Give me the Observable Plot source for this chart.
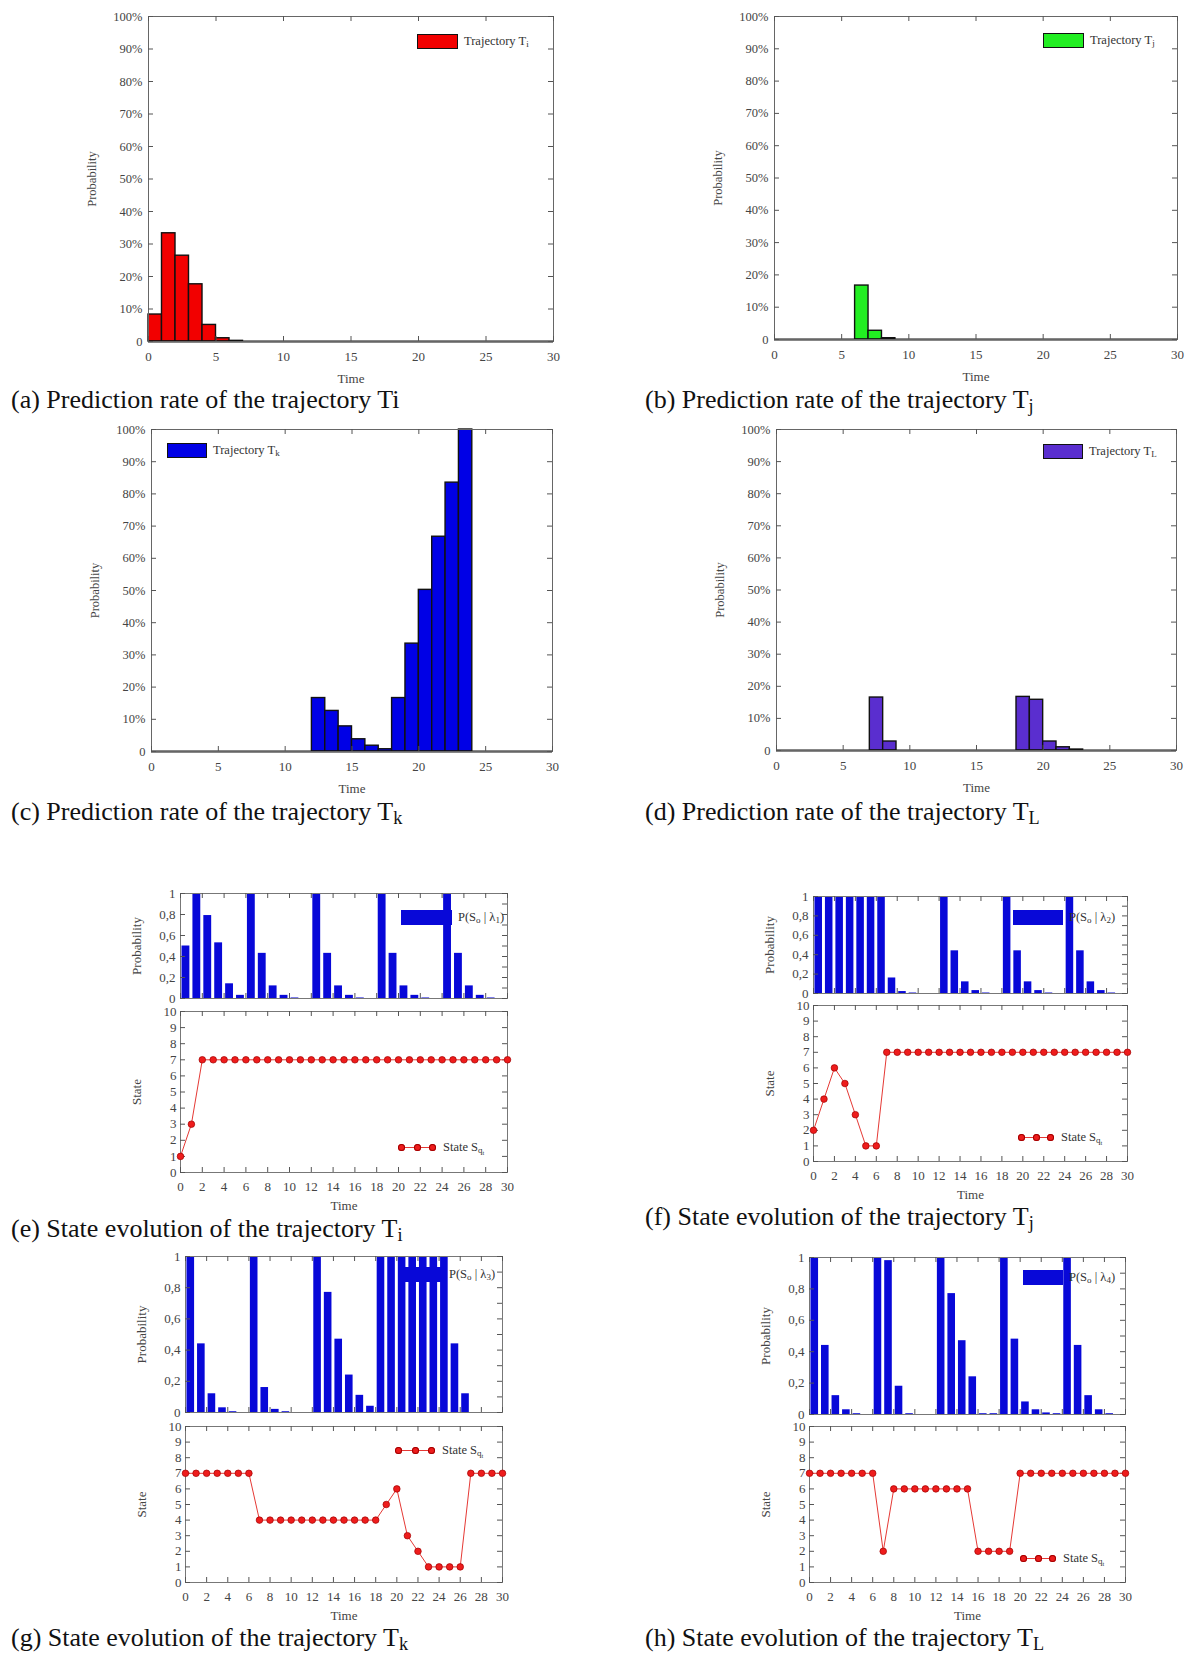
<!DOCTYPE html>
<html><head><meta charset="utf-8">
<script src="https://cdn.jsdelivr.net/npm/d3@7"></script>
<script src="https://cdn.jsdelivr.net/npm/@observablehq/plot@0.6"></script>
<style>
body{margin:0;background:#fff}
#root{position:relative;width:1186px;height:1659px;overflow:hidden;font-family:"Liberation Serif","Times New Roman",serif;background:#fff}
#root svg{overflow:visible}
.cap{position:absolute;font-size:26px;line-height:28px;color:#111;white-space:nowrap}
.cap sub{font-size:70%;vertical-align:-0.2em;line-height:0}
.leg{position:absolute;display:flex;align-items:center;height:16px;font-size:12.5px;color:#333;white-space:nowrap}
.leg sub{font-size:72%;vertical-align:-0.25em;line-height:0}
.sw{display:inline-block;box-sizing:border-box;margin-right:6px}
.sl{display:inline-flex;justify-content:space-between;align-items:center;height:8px;margin-right:7px;background:linear-gradient(#e53935,#e53935) center/100% 1px no-repeat}
.sl i{display:block;width:7px;height:7px;border-radius:50%;background:#ee1c1c;box-shadow:inset 0 0 0 1px #a00000}
</style></head>
<body><div id="root"></div>
<script>
// ---------- data ----------
const timeSteps = [0,1,2,3,4,5,6,7,8,9,10,11,12,13,14,15,16,17,18,19,20,21,22,23,24,25,26,27,28,29];
const stateTimes = [0,1,2,3,4,5,6,7,8,9,10,11,12,13,14,15,16,17,18,19,20,21,22,23,24,25,26,27,28,29,30];

// prediction rate (%) per time bin
const probTi = [8.3,33.3,26.4,17.6,5.1,1.0,0.2,0,0,0,0,0,0,0,0,0,0,0,0,0,0,0,0,0,0,0,0,0,0,0];
const probTj = [0,0,0,0,0,0,16.7,2.7,0.4,0,0,0,0,0,0,0,0,0,0,0,0,0,0,0,0,0,0,0,0,0];
const probTk = [0,0,0,0,0,0,0,0,0,0,0,0,16.6,12.6,7.8,3.8,1.8,0.7,16.6,33.5,50.2,66.7,83.5,100,0,0,0,0,0,0];
const probTL = [0,0,0,0,0,0,0,16.5,2.8,0,0,0,0,0,0,0,0,0,16.7,15.8,2.8,1.0,0.3,0,0,0,0,0,0,0];

// P(So | lambda_n) per time step
const pLambda1 = [0.50,1,0.79,0.53,0.14,0.03,1,0.43,0.12,0.03,0.005,0,1,0.43,0.12,0.03,0.005,0,1,0.43,0.12,0.03,0.005,0,1,0.43,0.12,0.03,0.005,0];
const pLambda2 = [1,1,1,1,1,1,1,0.16,0.02,0.005,0,0,1,0.44,0.12,0.03,0.005,0,1,0.44,0.12,0.03,0.005,0,1,0.44,0.12,0.03,0.005,0];
const pLambda3 = [1,0.44,0.12,0.03,0.005,0,1,0.16,0.02,0.005,0,0,1,0.77,0.47,0.24,0.11,0.04,1,1,1,1,1,1,1,0.44,0.12,0,0,0];
const pLambda4 = [1,0.44,0.12,0.03,0.005,0,1,0.98,0.18,0.005,0,0,1,0.77,0.47,0.24,0.005,0.005,1,0.48,0.08,0.03,0.01,0.005,1,0.44,0.12,0.03,0.005,0];

// state evolution S_qt
const stateTi = [1,3,7,7,7,7,7,7,7,7,7,7,7,7,7,7,7,7,7,7,7,7,7,7,7,7,7,7,7,7,7];
const stateTj = [2,4,6,5,3,1,1,7,7,7,7,7,7,7,7,7,7,7,7,7,7,7,7,7,7,7,7,7,7,7,7];
const stateTk = [7,7,7,7,7,7,7,4,4,4,4,4,4,4,4,4,4,4,4,5,6,3,2,1,1,1,1,7,7,7,7];
const stateTL = [7,7,7,7,7,7,7,2,6,6,6,6,6,6,6,6,2,2,2,2,7,7,7,7,7,7,7,7,7,7,7];

// ticks
const histTimeTicks = [0,5,10,15,20,25,30];
const histProbTicks = [0,10,20,30,40,50,60,70,80,90,100];
const stateTimeTicks = [0,2,4,6,8,10,12,14,16,18,20,22,24,26,28,30];
const stateTicks = [0,1,2,3,4,5,6,7,8,9,10];
const barProbTicks = [0,0.2,0.4,0.6,0.8,1];
const barMinorTicks = [0,0.1,0.2,0.3,0.4,0.5,0.6,0.7,0.8,0.9,1];

// captions
const captions = [
  "(a) Prediction rate of the trajectory Ti",
  "(b) Prediction rate of the trajectory T<sub>j</sub>",
  "(c) Prediction rate of the trajectory T<sub>k</sub>",
  "(d) Prediction rate of the trajectory T<sub>L</sub>",
  "(e) State evolution of the trajectory T<sub>i</sub>",
  "(f) State evolution of the trajectory T<sub>j</sub>",
  "(g) State evolution of the trajectory T<sub>k</sub>",
  "(h) State evolution of the trajectory T<sub>L</sub>"
];

// ---------- helpers ----------
const root = document.getElementById("root");
function place(el, left, top){ el.style.position="absolute"; el.style.left=left+"px"; el.style.top=top+"px"; root.appendChild(el); return el; }
const FONT = "Liberation Serif, Times New Roman, serif";
const TICK = "#555";

function innerTicks(xt, yt, innerW, innerH, len, yRight){
  return [
    Plot.tickX(xt, {x: d=>d, insetTop: innerH-len, stroke: TICK}),
    Plot.tickX(xt, {x: d=>d, insetBottom: innerH-len, stroke: TICK}),
    Plot.tickY(yt, {y: d=>d, insetRight: innerW-len, stroke: TICK}),
    Plot.tickY(yRight || yt, {y: d=>d, insetLeft: innerW-len, stroke: TICK})
  ];
}

function histogram(cfg){
  const rows = timeSteps.map((t,i)=>({t, p: cfg.data[i]}));
  const innerW = cfg.w-cfg.ml-cfg.mr, innerH = cfg.h-cfg.mt-cfg.mb;
  const svg = Plot.plot({
    width: cfg.w, height: cfg.h, marginLeft: cfg.ml, marginRight: cfg.mr, marginTop: cfg.mt, marginBottom: cfg.mb,
    style: {fontFamily: FONT, fontSize: "13px", color: "#444", background: "transparent", overflow: "visible"},
    x: {domain: [0,30], axis: null},
    y: {domain: [0,100], axis: null},
    marks: [
      Plot.rectY(rows, {x1: "t", x2: d=>d.t+1, y: "p", fill: cfg.color, stroke: "#111", strokeWidth: 1.4, inset: 0}),
      Plot.ruleY([0], {stroke: "#111", strokeWidth: 2}),
      Plot.frame({stroke: "#666"}),
      ...innerTicks(histTimeTicks, histProbTicks, innerW, innerH, 5),
      Plot.axisX(histTimeTicks, {tickSize: 0, tickPadding: 10, label: "Time", labelAnchor: "center", labelOffset: 41, labelArrow: "none", fontSize: 13}),
      Plot.axisY(histProbTicks, {tickSize: 0, tickPadding: 6, tickFormat: d => d===0 ? "0" : d+"%", label: "Probability", labelAnchor: "center", labelOffset: 61, labelArrow: "none", fontSize: 12.5})
    ]
  });
  place(svg, cfg.left, cfg.top);
}

function probBars(cfg){
  const rows = timeSteps.map((t,i)=>({t, p: cfg.data[i]}));
  const innerW = cfg.w-cfg.ml-cfg.mr, innerH = cfg.h-cfg.mt-cfg.mb;
  const svg = Plot.plot({
    width: cfg.w, height: cfg.h, marginLeft: cfg.ml, marginRight: cfg.mr, marginTop: cfg.mt, marginBottom: cfg.mb,
    style: {fontFamily: FONT, fontSize: "13px", color: "#444", background: "transparent", overflow: "visible"},
    x: {domain: [0,30], axis: null},
    y: {domain: [0,1], axis: null},
    marks: [
      Plot.rectY(rows, {x1: d=>d.t+0.14, x2: d=>d.t+0.86, y: "p", fill: "#0808d8", inset: 0}),
      Plot.frame({stroke: "#777"}),
      ...innerTicks(stateTimeTicks, barProbTicks, innerW, innerH, 5, barMinorTicks),
      Plot.axisY(barProbTicks, {tickSize: 0, tickPadding: 5, tickFormat: d => String(d).replace(".", ","), label: "Probability", labelAnchor: "center", labelOffset: 49, labelArrow: "none", fontSize: 13})
    ]
  });
  place(svg, cfg.left, cfg.top);
}

function stateChart(cfg){
  const rows = stateTimes.map((t,i)=>({t, s: cfg.data[i]}));
  const innerW = cfg.w-cfg.ml-cfg.mr, innerH = cfg.h-cfg.mt-cfg.mb;
  const svg = Plot.plot({
    width: cfg.w, height: cfg.h, marginLeft: cfg.ml, marginRight: cfg.mr, marginTop: cfg.mt, marginBottom: cfg.mb,
    style: {fontFamily: FONT, fontSize: "13px", color: "#444", background: "transparent", overflow: "visible"},
    x: {domain: [0,30], axis: null},
    y: {domain: [0,10], axis: null},
    marks: [
      Plot.frame({stroke: "#777"}),
      ...innerTicks(stateTimeTicks, stateTicks, innerW, innerH, 5),
      Plot.line(rows, {x: "t", y: "s", stroke: "#e53935", strokeWidth: 1}),
      Plot.dot(rows, {x: "t", y: "s", r: 3.3, fill: "#ee1c1c", stroke: "#a00000", strokeWidth: 0.7}),
      Plot.axisX(stateTimeTicks, {tickSize: 0, tickPadding: 9, label: "Time", labelAnchor: "center", labelOffset: 37, labelArrow: "none", fontSize: 13}),
      Plot.axisY(stateTicks, {tickSize: 0, tickPadding: 4, label: "State", labelAnchor: "center", labelOffset: 49, labelArrow: "none", fontSize: 13})
    ]
  });
  place(svg, cfg.left, cfg.top);
}

function swatchLegend(left, centerY, color, border, w, html){
  const d = document.createElement("div");
  d.className = "leg";
  d.innerHTML = `<span class="sw" style="width:${w}px;height:15px;background:${color};${border ? "border:1.5px solid #111" : ""}"></span><span>${html}</span>`;
  place(d, left, centerY-8);
}
function stateLegend(left, centerY, w){
  const d = document.createElement("div");
  d.className = "leg";
  d.innerHTML = `<span class="sl" style="width:${w}px"><i></i><i></i><i></i></span><span>State S<sub>q<sub>t</sub></sub></span>`;
  place(d, left, centerY-8);
}
function caption(text, left, top){
  const d = document.createElement("div");
  d.className = "cap";
  d.innerHTML = text;
  place(d, left, top);
}

// ---------- layout ----------
histogram({data: probTi, color: "#f20000", left: 80, top: 0, w: 490, h: 392, ml: 68, mr: 17, mt: 16, mb: 51});
histogram({data: probTj, color: "#22ee22", left: 700, top: 0, w: 486, h: 392, ml: 74, mr: 9, mt: 16, mb: 53});
histogram({data: probTk, color: "#0000e6", left: 80, top: 415, w: 490, h: 392, ml: 71, mr: 18, mt: 14, mb: 56});
histogram({data: probTL, color: "#5a2ecf", left: 700, top: 415, w: 486, h: 392, ml: 76, mr: 10, mt: 14, mb: 57});

stateChart({data: stateTi, left: 120, top: 1005, w: 400, h: 212, ml: 60, mr: 13, mt: 6, mb: 45});
probBars({data: pLambda1, left: 120, top: 880, w: 400, h: 135, ml: 60, mr: 13, mt: 13, mb: 17});
stateChart({data: stateTj, left: 740, top: 998, w: 400, h: 208, ml: 73, mr: 13, mt: 7, mb: 45});
probBars({data: pLambda2, left: 740, top: 880, w: 400, h: 128, ml: 73, mr: 13, mt: 16, mb: 15});
stateChart({data: stateTk, left: 120, top: 1418, w: 400, h: 208, ml: 65, mr: 18, mt: 8, mb: 44});
probBars({data: pLambda3, left: 120, top: 1245, w: 400, h: 180, ml: 65, mr: 18, mt: 11, mb: 13});
stateChart({data: stateTL, left: 740, top: 1418, w: 400, h: 208, ml: 69, mr: 15, mt: 8, mb: 44});
probBars({data: pLambda4, left: 740, top: 1245, w: 400, h: 182, ml: 69, mr: 15, mt: 12, mb: 13});

// legends
swatchLegend(417, 41, "#f20000", true, 41, "Trajectory T<sub>i</sub>");
swatchLegend(1043, 40, "#22ee22", true, 41, "Trajectory T<sub>j</sub>");
swatchLegend(167, 450, "#0000e6", true, 40, "Trajectory T<sub>k</sub>");
swatchLegend(1043, 451, "#5a2ecf", true, 40, "Trajectory T<sub>L</sub>");

swatchLegend(401, 917, "#0808d8", false, 51, "P(S<sub>o</sub> | λ<sub>1</sub>)");
swatchLegend(1013, 917, "#0808d8", false, 50, "P(S<sub>o</sub> | λ<sub>2</sub>)");
swatchLegend(398, 1274, "#0808d8", false, 45, "P(S<sub>o</sub> | λ<sub>3</sub>)");
swatchLegend(1023, 1277, "#0808d8", false, 40, "P(S<sub>o</sub> | λ<sub>4</sub>)");

stateLegend(398, 1147, 38);
stateLegend(1018, 1137, 36);
stateLegend(395, 1450, 40);
stateLegend(1020, 1558, 36);

// captions
const capPos = [[11,386],[645,386],[11,798],[645,798],[11,1215],[645,1203],[11,1624],[645,1624]];
captions.forEach((c,i)=>caption(c, capPos[i][0], capPos[i][1]));
</script>
</body></html>
